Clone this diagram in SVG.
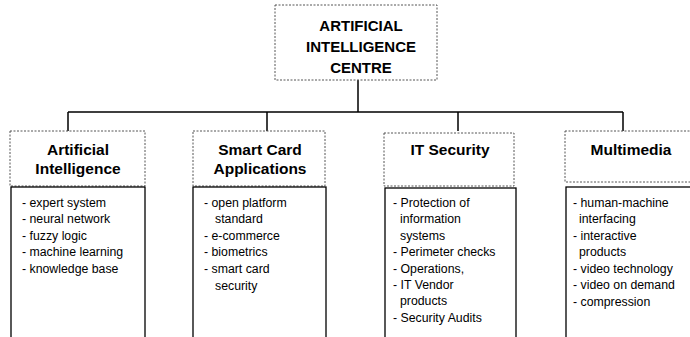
<svg xmlns="http://www.w3.org/2000/svg" width="690" height="337" viewBox="0 0 690 337">
<style>
.hdr{fill:#fff;stroke:#555;stroke-width:1;stroke-dasharray:2 1.5}
.lst{fill:#fff;stroke:#000;stroke-width:1.3}
.conn{stroke:#000;stroke-width:1.5;fill:none}
.tt{font-family:"Liberation Sans",Arial,sans-serif;font-weight:bold;font-size:15px;text-anchor:middle;fill:#000}
.ht{font-family:"Liberation Sans",Arial,sans-serif;font-weight:bold;font-size:15.5px;text-anchor:middle;fill:#000}
.it{font-family:"Liberation Sans",Arial,sans-serif;font-size:12.3px;fill:#000}
</style>
<rect width="690" height="337" fill="#fff"/>
<g id="connectors">
<path class="conn" d="M358 80 V112 M68 112 H623 M68 112 V131 M267 112 V131 M458 112 V131 M623 112 V131"/>
</g>
<g id="root">
<rect class="hdr" x="275" y="5" width="162" height="75"/>
<text class="tt" x="361" y="31">ARTIFICIAL</text>
<text class="tt" x="361" y="52">INTELLIGENCE</text>
<text class="tt" x="361" y="73">CENTRE</text>
</g>
<g id="ai">
<rect class="hdr" x="10" y="131" width="135" height="55"/>
<text class="ht" x="78" y="155">Artificial</text>
<text class="ht" x="78" y="174">Intelligence</text>
<rect class="lst" x="11" y="187" width="134" height="160"/>
<text class="it" x="22" y="207">- expert system</text>
<text class="it" x="22" y="223">- neural network</text>
<text class="it" x="22" y="240">- fuzzy logic</text>
<text class="it" x="22" y="256">- machine learning</text>
<text class="it" x="22" y="273">- knowledge base</text>
</g>
<g id="smartcard">
<rect class="hdr" x="193" y="131" width="132" height="55"/>
<text class="ht" x="260" y="155">Smart Card</text>
<text class="ht" x="260" y="174">Applications</text>
<rect class="lst" x="193" y="187" width="133" height="160"/>
<text class="it" x="204" y="207">- open platform</text>
<text class="it" x="215" y="223">standard</text>
<text class="it" x="204" y="240">- e-commerce</text>
<text class="it" x="204" y="256">- biometrics</text>
<text class="it" x="204" y="273">- smart card</text>
<text class="it" x="215" y="290">security</text>
</g>
<g id="itsecurity">
<rect class="hdr" x="384" y="133" width="130" height="53"/>
<text class="ht" x="450" y="155">IT Security</text>
<rect class="lst" x="385" y="188" width="131" height="160"/>
<text class="it" x="393" y="207">- Protection of</text>
<text class="it" x="400" y="223">information</text>
<text class="it" x="400" y="240">systems</text>
<text class="it" x="393" y="256">- Perimeter checks</text>
<text class="it" x="393" y="273">- Operations,</text>
<text class="it" x="393" y="289">- IT Vendor</text>
<text class="it" x="400" y="305">products</text>
<text class="it" x="393" y="322">- Security Audits</text>
</g>
<g id="multimedia">
<rect class="hdr" x="565" y="131" width="130" height="51"/>
<text class="ht" x="631" y="155">Multimedia</text>
<rect class="lst" x="566" y="187" width="130" height="160"/>
<text class="it" x="573" y="207">- human-machine</text>
<text class="it" x="579" y="223">interfacing</text>
<text class="it" x="573" y="240">- interactive</text>
<text class="it" x="579" y="256">products</text>
<text class="it" x="573" y="273">- video technology</text>
<text class="it" x="573" y="289">- video on demand</text>
<text class="it" x="573" y="306">- compression</text>
</g>
</svg>
